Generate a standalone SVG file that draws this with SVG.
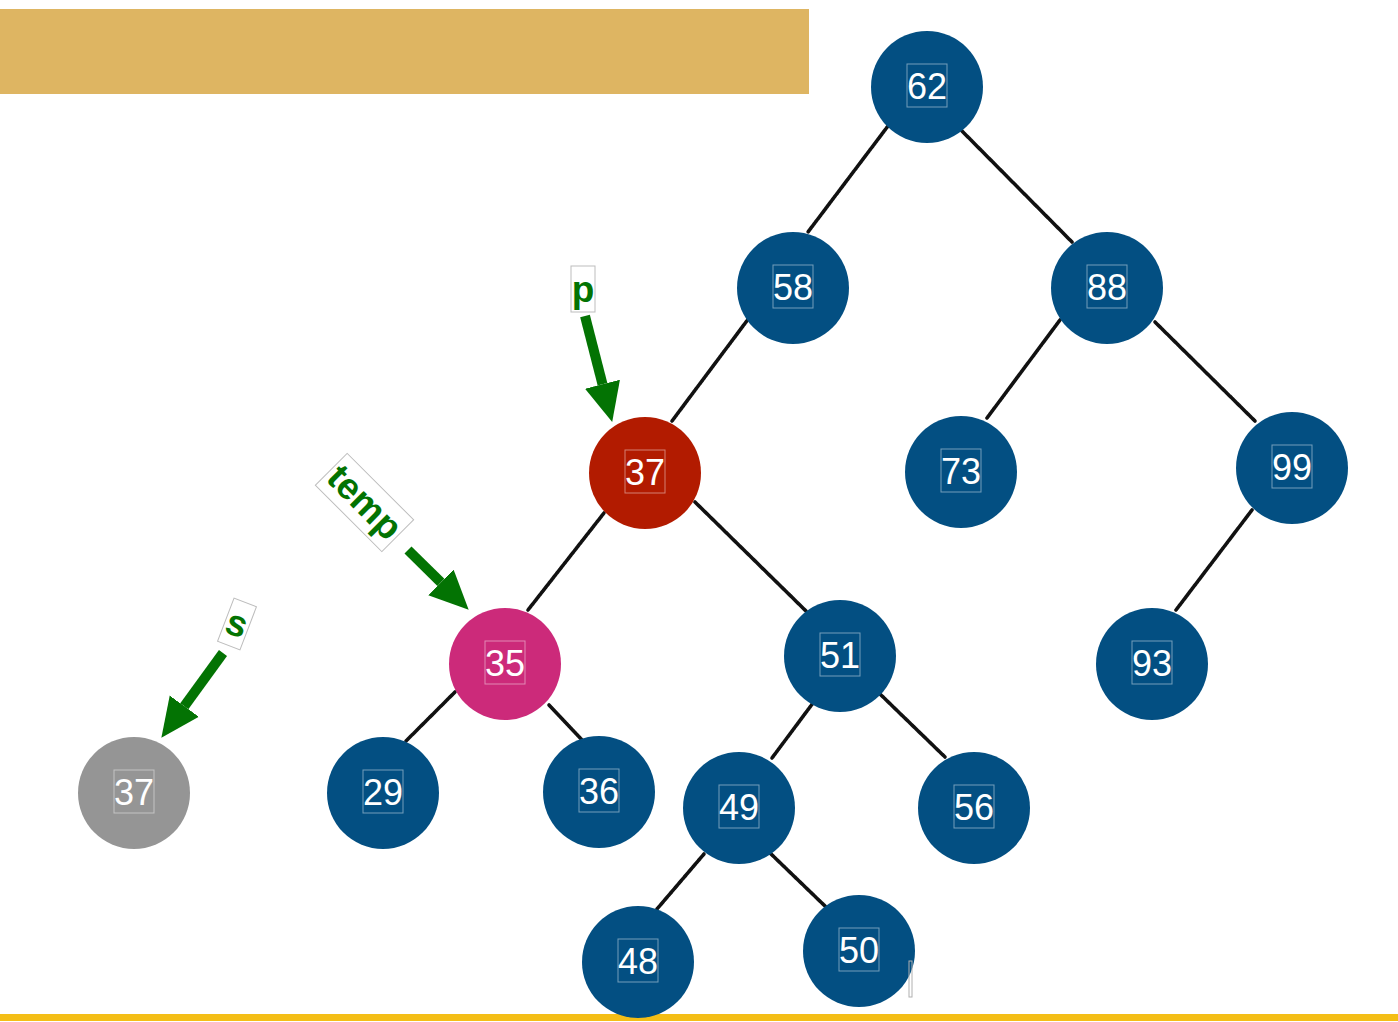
<svg xmlns="http://www.w3.org/2000/svg" width="1398" height="1022" viewBox="0 0 1398 1022">
<style>
.node circle{stroke:none}
.blue{fill:#034f82}
.red{fill:#b21b00}
.pink{fill:#cc2a7a}
.gray{fill:#959595}
.num{font-family:"Liberation Sans",Arial,sans-serif;font-size:36px;fill:#ffffff;text-anchor:middle}
.nbox{fill:none;stroke:#ffffff;stroke-opacity:0.45;stroke-width:1}
.lbl{font-family:"Liberation Sans",Arial,sans-serif;font-size:37px;font-weight:bold;fill:#037303;text-anchor:middle}
.lbox{fill:#ffffff;stroke:#bdbdbd;stroke-width:1}
.edge{stroke:#111111;stroke-width:3.6;stroke-linecap:round;stroke-dasharray:2.4 0.7}
.ptr{stroke:#037303;stroke-width:10;fill:none}
</style>
<defs>
<marker id="ah" markerUnits="userSpaceOnUse" markerWidth="42" markerHeight="40" refX="0" refY="20" orient="auto" viewBox="0 0 42 40">
<path d="M0,2 L39,20 L0,38 Z" fill="#037303"/>
</marker>
</defs>
<rect x="0" y="9" width="809" height="85" fill="#deb562"/>
<rect x="0" y="1014" width="1398" height="7" fill="#f4be16"/>
<g id="connectors">
<line class="edge" x1="888" y1="126" x2="808" y2="232"/>
<line class="edge" x1="962" y1="131" x2="1072" y2="242"/>
<line class="edge" x1="749" y1="318" x2="672" y2="421"/>
<line class="edge" x1="1060" y1="320" x2="987" y2="418"/>
<line class="edge" x1="1155" y1="322" x2="1255" y2="421"/>
<line class="edge" x1="604" y1="513" x2="528" y2="610"/>
<line class="edge" x1="695" y1="502" x2="806" y2="611"/>
<line class="edge" x1="1252" y1="510" x2="1176" y2="610"/>
<line class="edge" x1="455" y1="692" x2="406" y2="741"/>
<line class="edge" x1="549" y1="705" x2="582" y2="740"/>
<line class="edge" x1="813" y1="703" x2="772" y2="758"/>
<line class="edge" x1="880" y1="694" x2="945" y2="757"/>
<line class="edge" x1="704" y1="854" x2="657" y2="909"/>
<line class="edge" x1="770" y1="853" x2="826" y2="907"/>
</g>
<g id="n62" class="node"><circle class="blue" cx="927" cy="87" r="56"/><rect class="nbox" x="907" y="64" width="40" height="43"/><text class="num" x="927" y="99">62</text></g>
<g id="n58" class="node"><circle class="blue" cx="793" cy="288" r="56"/><rect class="nbox" x="773" y="265" width="40" height="43"/><text class="num" x="793" y="300">58</text></g>
<g id="n88" class="node"><circle class="blue" cx="1107" cy="288" r="56"/><rect class="nbox" x="1087" y="265" width="40" height="43"/><text class="num" x="1107" y="300">88</text></g>
<g id="n37" class="node"><circle class="red" cx="645" cy="473" r="56"/><rect class="nbox" x="625" y="450" width="40" height="43"/><text class="num" x="645" y="485">37</text></g>
<g id="n73" class="node"><circle class="blue" cx="961" cy="472" r="56"/><rect class="nbox" x="941" y="449" width="40" height="43"/><text class="num" x="961" y="484">73</text></g>
<g id="n99" class="node"><circle class="blue" cx="1292" cy="468" r="56"/><rect class="nbox" x="1272" y="445" width="40" height="43"/><text class="num" x="1292" y="480">99</text></g>
<g id="n35" class="node"><circle class="pink" cx="505" cy="664" r="56"/><rect class="nbox" x="485" y="641" width="40" height="43"/><text class="num" x="505" y="676">35</text></g>
<g id="n51" class="node"><circle class="blue" cx="840" cy="656" r="56"/><rect class="nbox" x="820" y="633" width="40" height="43"/><text class="num" x="840" y="668">51</text></g>
<g id="n93" class="node"><circle class="blue" cx="1152" cy="664" r="56"/><rect class="nbox" x="1132" y="641" width="40" height="43"/><text class="num" x="1152" y="676">93</text></g>
<g id="s37" class="node"><circle class="gray" cx="134" cy="793" r="56"/><rect class="nbox" x="114" y="770" width="40" height="43"/><text class="num" x="134" y="805">37</text></g>
<g id="n29" class="node"><circle class="blue" cx="383" cy="793" r="56"/><rect class="nbox" x="363" y="770" width="40" height="43"/><text class="num" x="383" y="805">29</text></g>
<g id="n36" class="node"><circle class="blue" cx="599" cy="792" r="56"/><rect class="nbox" x="579" y="769" width="40" height="43"/><text class="num" x="599" y="804">36</text></g>
<g id="n49" class="node"><circle class="blue" cx="739" cy="808" r="56"/><rect class="nbox" x="719" y="785" width="40" height="43"/><text class="num" x="739" y="820">49</text></g>
<g id="n56" class="node"><circle class="blue" cx="974" cy="808" r="56"/><rect class="nbox" x="954" y="785" width="40" height="43"/><text class="num" x="974" y="820">56</text></g>
<g id="n48" class="node"><circle class="blue" cx="638" cy="962" r="56"/><rect class="nbox" x="618" y="939" width="40" height="43"/><text class="num" x="638" y="974">48</text></g>
<g id="n50" class="node"><circle class="blue" cx="859" cy="951" r="56"/><rect class="nbox" x="839" y="928" width="40" height="43"/><text class="num" x="859" y="963">50</text></g>
<rect x="909" y="961" width="3" height="36" fill="none" stroke="#b0b0b0" stroke-width="1"/>
<g id="ptr-p">
<line class="ptr" x1="585" y1="316" x2="602.5" y2="384.2" marker-end="url(#ah)"/>
<rect class="lbox" x="571" y="266" width="24" height="46"/>
<text class="lbl" x="583" y="302">p</text>
</g>
<g id="ptr-temp">
<line class="ptr" x1="408" y1="550" x2="440.9" y2="582.4" marker-end="url(#ah)"/>
<g transform="translate(364.5,502.5) rotate(45)">
<rect class="lbox" x="-47" y="-22.5" width="94" height="45"/>
<text class="lbl" x="0" y="12">temp</text>
</g>
</g>
<g id="ptr-s">
<line class="ptr" x1="223" y1="653" x2="184.3" y2="706.2" marker-end="url(#ah)"/>
<g transform="translate(237,624) rotate(21)">
<rect class="lbox" x="-12" y="-23" width="24" height="46"/>
<text class="lbl" x="0" y="12">s</text>
</g>
</g>
</svg>
